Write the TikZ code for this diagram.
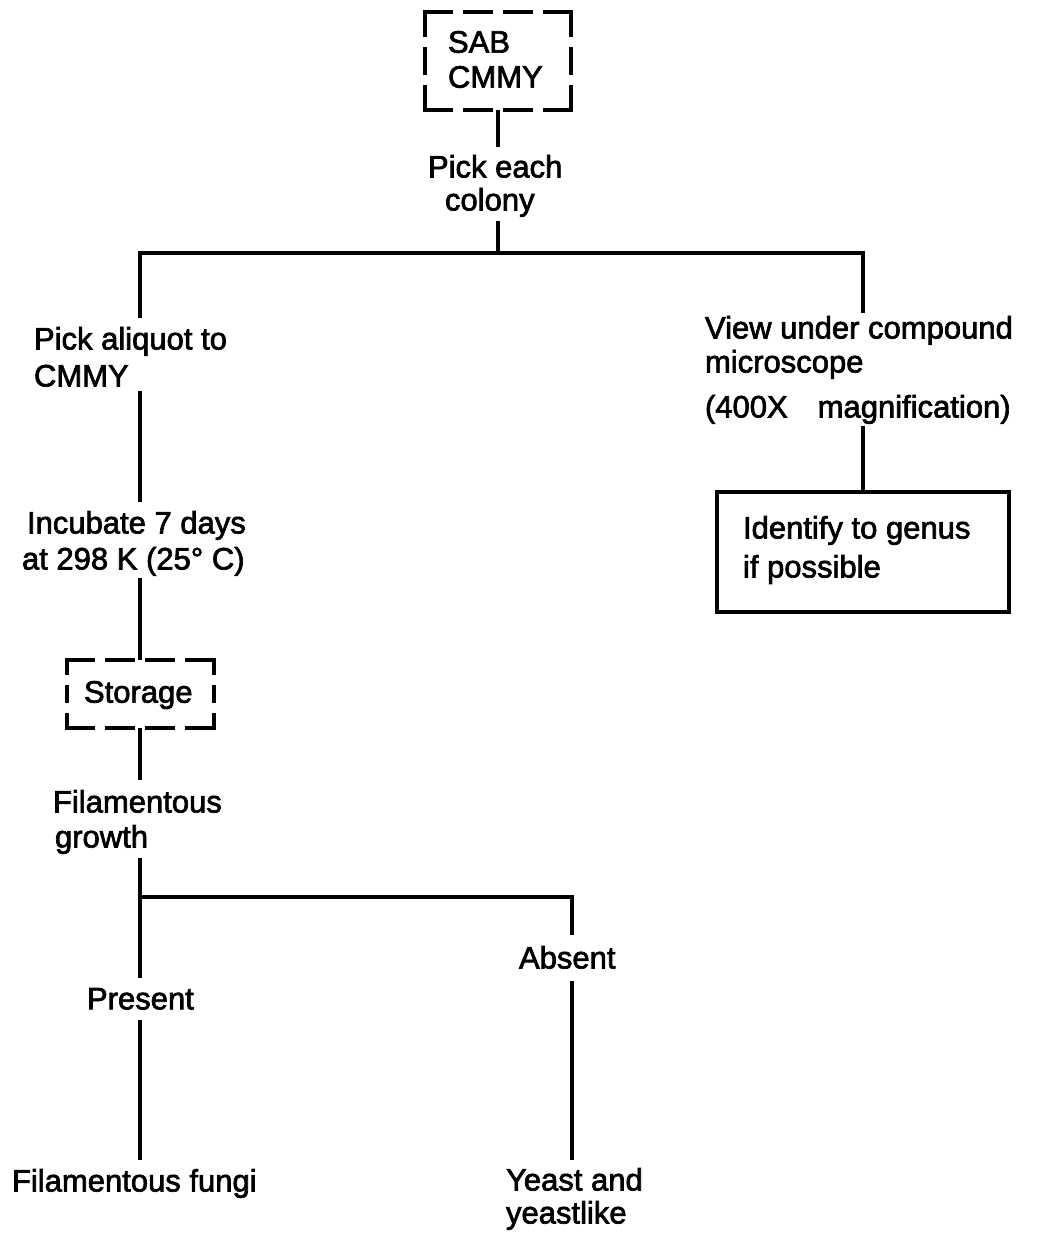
\documentclass[tikz,border=0pt]{standalone}
\usepackage{fontspec}
\newfontfamily\diagfont[FakeBold=2.2]{Liberation Sans}
\begin{document}
\begin{tikzpicture}[x=1pt,y=-1pt,
  conn/.style={line width=4pt, line join=miter},
  txt/.style={anchor=north west, inner sep=0pt, outer sep=0pt, align=left, font=\diagfont\fontsize{31}{35}\selectfont},
  boxnode/.style={inner sep=0pt, outer sep=0pt, draw=none},
  dashside/.style={line width=4pt, line cap=rect, dash pattern=on #1 off 14pt},
  solidbox/.style={draw, line width=3.5pt, inner sep=0pt, outer sep=0pt}]
\fill[white] (0,0) rectangle (1039,1234);
\useasboundingbox (0,0) rectangle (1039,1234);

% boxes
\node[boxnode, minimum width=146pt, minimum height=98pt] (sab) at (498,61) {};
\node[boxnode, minimum width=147pt, minimum height=68pt] (storbox) at (140,694) {};
\node[solidbox, minimum width=292pt, minimum height=120pt] (idbox) at (863,552) {};

% dashed borders
\draw[dashside=26pt] (sab.north west) -- (sab.north east) (sab.south west) -- (sab.south east);
\draw[dashside=23.3pt] (sab.north west) -- (sab.south west) (sab.north east) -- (sab.south east);
\draw[dashside=26.25pt] (storbox.north west) -- (storbox.north east) (storbox.south west) -- (storbox.south east);
\draw[dashside=13.3pt] (storbox.north west) -- (storbox.south west) (storbox.north east) -- (storbox.south east);

% texts
\node[txt] (sabtxt) at (448,31) {SAB\\CMMY};
\node[txt] (pick) at (428,155) {Pick each\\[-2pt]\hspace*{17pt}colony};
\node[txt] (aliq) at (34,327) {Pick aliquot to\\[2pt]CMMY};
\node[txt] (incub) at (22,511) {\hspace*{5pt}Incubate 7 days\\[1pt]at 298 K (25° C)};
\node[txt] (stortxt) at (84,681) {Storage};
\node[txt] (fil) at (53,790) {Filamentous\\\hspace*{2pt}growth};
\node[txt] (present) at (87,988) {Present};
\node[txt] (absent) at (519,946) {Absent};
\node[txt] (fungi) at (12,1169) {Filamentous fungi};
\node[txt] (yeast) at (506,1168) {Yeast and\\[-2pt]yeastlike};
\node[txt] (view) at (705,316) {View under compound\\[-1pt]microscope\\[10pt](400X\hspace{30pt}magnification)};
\node[txt] (idtxt) at (743,516) {Identify to genus\\[4pt]if possible};

% junction coordinates
\coordinate (jtop) at (498,253);
\coordinate (jl) at (140,253);
\coordinate (jr) at (863,253);
\coordinate (jb) at (140,897);
\coordinate (jbr) at (572,897);

% connectors
\draw[conn, shorten >=8pt] (sab.south) -- (sab.south |- pick.north);
\draw[conn, shorten <=4pt] (jtop |- pick.south) -- (jtop);
\draw[conn, shorten <=9pt, shorten >=3pt] (jl |- aliq.north) -- (jl) -- (jr) -- (jr |- view.north);
\draw[conn, shorten <=4pt, shorten >=9pt] (jl |- aliq.south) -- (jl |- incub.north);
\draw[conn, shorten <=2pt] (jl |- incub.south) -- (storbox.north);
\draw[conn, shorten >=10pt] (storbox.south) -- (jl |- fil.north);
\draw[conn, shorten <=4pt] (jl |- fil.south) -- (jb);
\draw[conn, shorten <=10pt, shorten >=11pt] (jl |- present.north) -- (jb) -- (jbr) -- (jbr |- absent.north);
\draw[conn, shorten <=10pt, shorten >=9pt] (jl |- present.south) -- (jl |- fungi.north);
\draw[conn, shorten <=12pt, shorten >=8pt] (jbr |- absent.south) -- (jbr |- yeast.north);
\draw[conn, shorten <=2pt] (jr |- view.south) -- (idbox.north);
\end{tikzpicture}
\end{document}
